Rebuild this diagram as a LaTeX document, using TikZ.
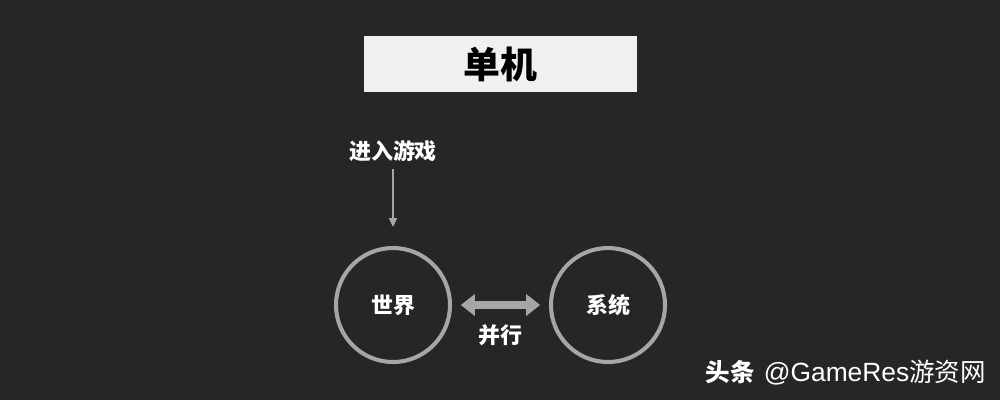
\documentclass[tikz,border=0pt]{standalone}
\usepackage{fontspec}
\newfontfamily\cjk{Noto Sans CJK SC}
\newfontfamily\lat{Liberation Sans}
\usetikzlibrary{arrows.meta}
\definecolor{bg}{HTML}{262626}
\definecolor{boxc}{HTML}{F0F0F0}
\definecolor{ring}{HTML}{A6A6A6}
\begin{document}
\begin{tikzpicture}[x=0.02cm,y=-0.02cm,
  lbl/.style={text=white,font=\cjk\bfseries\fontsize{12.5}{14}\selectfont,inner sep=0pt},
  ringnode/.style={circle,draw=ring,line width=2.3pt,minimum size=114*0.02cm,inner sep=0pt}]
\fill[bg] (0,0) rectangle (1000,400);
\useasboundingbox (0,0) rectangle (1000,400);
\node[fill=boxc,minimum width=273*0.02cm,minimum height=56*0.02cm,inner sep=0pt,
  font=\cjk\bfseries\fontsize{21}{24}\selectfont,text=black] (title) at (500.5,64) {单机};
\node[lbl] (enter) at (393,151) {进入游戏};
\node[ringnode,lbl] (world) at (393,305) {世界};
\node[ringnode,lbl] (sys) at (608,305) {系统};
\coordinate (ae) at (393,227);
\draw[ring,line width=1pt,-{Triangle[length=5pt,width=4.5pt]}] (393,169) -- (ae);
\draw[ring,line width=4.5pt,{Triangle[length=8pt,width=12pt]}-{Triangle[length=8pt,width=12pt]}]
  ([xshift=5pt]world.east) -- ([xshift=-5pt]sys.west);
\node[lbl] (par) at (500.5,335) {并行};
\node[anchor=east,text=white,inner sep=0pt] (wm) at (986,373)
  {{\cjk\bfseries\fontsize{14}{16}\selectfont 头条}\hspace{5pt}{\lat\fontsize{15}{16}\selectfont @GameRes}{\cjk\fontsize{14.5}{16}\selectfont 游资网}};
\end{tikzpicture}
\end{document}
